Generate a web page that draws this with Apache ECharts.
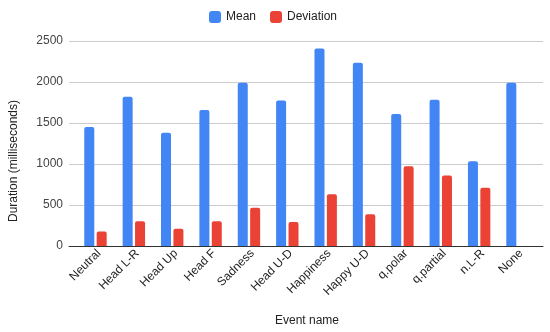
<!DOCTYPE html>
<html>
<head>
<meta charset="utf-8">
<script src="https://cdn.jsdelivr.net/npm/echarts@6/dist/echarts.min.js"></script>
<style>html,body{margin:0;padding:0;background:#fff}#c{width:550px;height:332px}</style>
</head>
<body>
<div id="c"></div>
<script>
const categories = ['Neutral','Head L-R','Head Up','Head F','Sadness','Head U-D','Happiness','Happy U-D','q.polar','q.partial','n.L-R','None'];
const meanValues = [1450, 1820, 1380, 1660, 1990, 1775, 2410, 2235, 1610, 1785, 1035, 1990];
const deviationValues = [177, 303, 209, 303, 467, 294, 630, 387, 972, 860, 710, 0];
const yTicks = { min: 0, max: 2500, interval: 500 };

const FONT = '"Liberation Sans", Arial, sans-serif';
const chart = echarts.init(document.getElementById('c'), null, {renderer: 'canvas'});
chart.setOption({
  animation: false,
  textStyle: { fontFamily: FONT },
  legend: {
    top: 11, left: 209, padding: 0,
    itemWidth: 12, itemHeight: 12, itemGap: 14,
    icon: 'roundRect',
    textStyle: { fontSize: 12, color: '#222', fontFamily: FONT },
    data: ['Mean', 'Deviation']
  },
  grid: [
    { left: 69, right: 7, top: 41, bottom: 86 },
    { left: 76.3, right: 13.3, top: 41, bottom: 86 }
  ],
  xAxis: [
    { type: 'category', gridIndex: 0, data: [''], axisTick: {show:false}, axisLabel: {show:false},
      axisLine: { lineStyle: { color: '#333', width: 1 } }, z: 5 },
    { type: 'category', gridIndex: 1, data: categories, axisTick: {show:false},
      axisLine: {show:false},
      axisLabel: { rotate: 45, margin: 9, fontSize: 12, color: '#222', fontFamily: FONT, interval: 0,
        padding: [0, -5, 0, 0] } }
  ],
  yAxis: [
    { type: 'value', gridIndex: 0, min: yTicks.min, max: yTicks.max, interval: yTicks.interval,
      axisLine: {show:false}, axisTick: {show:false},
      axisLabel: { margin: 6, fontSize: 12, color: '#444', fontFamily: FONT, formatter: v => String(v) },
      splitLine: { lineStyle: { color: '#cccccc', width: 1 } } },
    { type: 'value', gridIndex: 1, min: yTicks.min, max: yTicks.max, interval: yTicks.interval,
      show: false, splitLine: {show:false} }
  ],
  series: [
    { name: 'Mean', type: 'bar', xAxisIndex: 1, yAxisIndex: 1, data: meanValues,
      barWidth: 10, barGap: '24%', itemStyle: { color: '#4285F4', borderRadius: [2,2,0,0] } },
    { name: 'Deviation', type: 'bar', xAxisIndex: 1, yAxisIndex: 1, data: deviationValues,
      barWidth: 10, barGap: '24%', itemStyle: { color: '#EA4335', borderRadius: [2,2,0,0] } }
  ],
  graphic: [
    { type: 'text', x: 14, y: 161, rotation: Math.PI / 2,
      style: { text: 'Duration (milliseconds)', fill: '#222', font: '12px ' + FONT,
        textAlign: 'center', textVerticalAlign: 'middle' } },
    { type: 'text', x: 307, y: 321,
      style: { text: 'Event name', fill: '#222', font: '12px ' + FONT,
        textAlign: 'center', textVerticalAlign: 'middle' } }
  ]
});
</script>
</body>
</html>
